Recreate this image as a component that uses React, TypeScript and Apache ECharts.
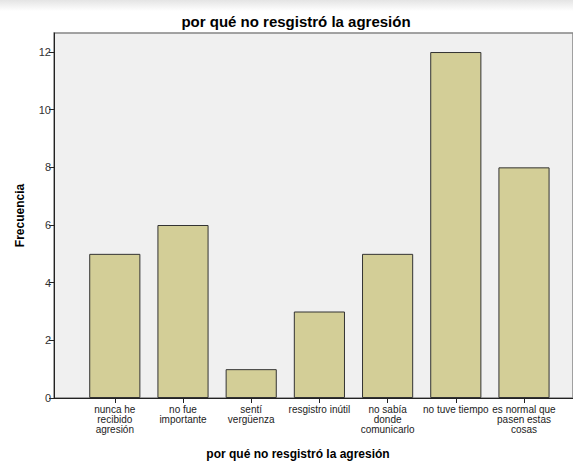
import React, { useEffect, useRef } from "react";
import * as echarts from "echarts";

const categories = [
  "nunca he\nrecibido\nagresión",
  "no fue\nimportante",
  "sentí\nvergüenza",
  "resgistro inútil",
  "no sabía\ndonde\ncomunicarlo",
  "no tuve tiempo",
  "es normal que\npasen estas\ncosas",
];
const frecuencias = [5, 6, 1, 3, 5, 12, 8];
const yTicks = [0, 2, 4, 6, 8, 10, 12];
const yMax = 12.66;
const chartTitle = "por qué no resgistró la agresión";
const xName = "por qué no resgistró la agresión";
const yName = "Frecuencia";

export default function App() {
  const ref = useRef<HTMLDivElement>(null);
  useEffect(() => {
    if (!ref.current) return;
    const chart = echarts.init(ref.current, undefined, { renderer: "svg" });
    const font = "Liberation Sans, Arial, sans-serif";
    chart.setOption({
      animation: false,
      textStyle: { fontFamily: font },
      grid: [
        {
          left: 54,
          right: -2,
          top: 33,
          bottom: 64,
          show: true,
          backgroundColor: "#f0f0f0",
          borderColor: "#858585",
          borderWidth: 1.5,
        },
        { left: 80.7, width: 477.4, top: 33, bottom: 64 },
      ],
      xAxis: [
        {
          gridIndex: 0,
          type: "value",
          min: 0,
          max: 1,
          axisLine: { show: true, onZero: false, lineStyle: { color: "#222", width: 1 } },
          axisTick: { show: false },
          axisLabel: { show: false },
          splitLine: { show: false },
        },
        {
          gridIndex: 1,
          type: "category",
          data: categories,
          axisLine: { show: false },
          axisTick: { show: true, alignWithLabel: true, length: 5, lineStyle: { color: "#222" } },
          axisLabel: {
            interval: 0,
            fontSize: 10,
            lineHeight: 10,
            color: "#222",
            margin: 6,
            fontFamily: font,
          },
        },
      ],
      yAxis: [
        {
          gridIndex: 0,
          type: "value",
          min: 0,
          max: yMax,
          axisLine: { show: true, lineStyle: { color: "#222", width: 1 } },
          axisTick: { show: true, length: 5, customValues: yTicks, lineStyle: { color: "#222" } },
          axisLabel: { fontSize: 11, color: "#333", margin: 3, customValues: yTicks, fontFamily: font },
          splitLine: { show: false },
          name: yName,
          nameLocation: "middle",
          nameGap: 28,
          nameTextStyle: { fontWeight: "bold", fontSize: 12, color: "#000", fontFamily: font },
        },
        { gridIndex: 1, type: "value", min: 0, max: yMax, show: false, splitLine: { show: false } },
      ],
      graphic: [
        {
          type: "rect",
          shape: { x: 0, y: 0, width: 573, height: 11 },
          style: {
            fill: new echarts.graphic.LinearGradient(0, 0, 0, 1, [
              { offset: 0, color: "#e4e4e4" },
              { offset: 1, color: "#ffffff" },
            ]),
          },
          silent: true,
        },
        {
          type: "text",
          x: 296,
          y: 21,
          style: {
            text: chartTitle,
            fontSize: 15,
            fontWeight: "bold",
            fill: "#000",
            textAlign: "center",
            textVerticalAlign: "middle",
            fontFamily: font,
          },
        },
        {
          type: "text",
          x: 298,
          y: 454,
          style: {
            text: xName,
            fontSize: 12,
            fontWeight: "bold",
            fill: "#000",
            textAlign: "center",
            textVerticalAlign: "middle",
            fontFamily: font,
          },
        },
      ],
      series: [
        {
          type: "bar",
          xAxisIndex: 1,
          yAxisIndex: 1,
          data: frecuencias,
          barWidth: "75%",
          itemStyle: { color: "#d3ce97", borderColor: "#333", borderWidth: 1 },
        },
      ],
    });
    return () => chart.dispose();
  }, []);
  return (
    <div
      ref={ref}
      style={{ position: "absolute", left: 0, top: 0, width: 573, height: 462, background: "#fff" }}
    />
  );
}
